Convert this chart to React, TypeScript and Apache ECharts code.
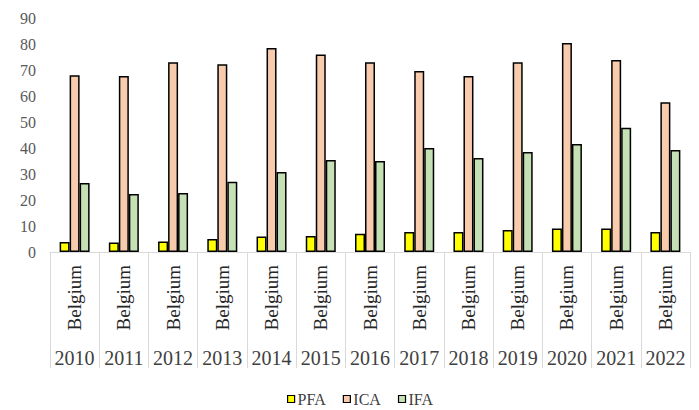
import React, { useEffect, useRef } from "react";
import * as echarts from "echarts";

const years = ["2010","2011","2012","2013","2014","2015","2016","2017","2018","2019","2020","2021","2022"];
const countries = years.map(() => "Belgium");
const pfa = [3.8, 3.7, 4.0, 5.0, 6.0, 6.2, 7.0, 7.7, 7.7, 8.5, 9.0, 9.0, 7.7];
const ica = [68.0, 67.7, 73.0, 72.2, 78.5, 76.0, 73.0, 69.6, 67.7, 73.0, 80.4, 73.8, 57.6];
const ifa = [26.5, 22.3, 22.7, 27.0, 30.8, 35.4, 35.0, 40.0, 36.2, 38.5, 41.5, 47.8, 39.2];
const yTicks = [0, 10, 20, 30, 40, 50, 60, 70, 80, 90];

const SERIF = "Liberation Serif, serif";

export default function App() {
  const ref = useRef<HTMLDivElement>(null);
  useEffect(() => {
    if (!ref.current) return;
    const chart = echarts.init(ref.current, null, { renderer: "svg" });
    const mk = (name: string, data: number[], color: string) => ({
      name,
      type: "bar",
      data,
      xAxisIndex: 0,
      barWidth: 10,
      barGap: "0%",
      itemStyle: { color, borderColor: "#000", borderWidth: 1.5 },
    });
    chart.setOption({
      animation: false,
      backgroundColor: "#fff",
      grid: { left: 50, right: 9, top: 18, bottom: 158, containLabel: false },
      legend: {
        left: 282,
        top: 386,
        itemWidth: 7,
        itemHeight: 7,
        itemGap: 17,
        textStyle: { fontFamily: SERIF, fontSize: 16, color: "#404040", padding: [0, 0, 0, -2] },
        data: [
          { name: "PFA", icon: "rect", itemStyle: { color: "#ffff00", borderColor: "#000", borderWidth: 1.2 } },
          { name: "ICA", icon: "rect", itemStyle: { color: "#f8cbad", borderColor: "#000", borderWidth: 1.2 } },
          { name: "IFA", icon: "rect", itemStyle: { color: "#c5e0b4", borderColor: "#000", borderWidth: 1.2 } },
        ],
      },
      xAxis: [
        {
          type: "category",
          data: countries,
          position: "bottom",
          axisLine: { show: true, lineStyle: { color: "#d9d9d9", width: 1 } },
          axisTick: { show: true, length: 116, interval: 0, lineStyle: { color: "#d9d9d9", width: 1 } },
          axisLabel: {
            interval: 0,
            rotate: 90,
            margin: 13,
            fontFamily: SERIF,
            fontSize: 19,
            color: "#262626",
          },
          splitLine: { show: false },
        },
        {
          type: "category",
          data: years,
          position: "bottom",
          axisLine: { show: false },
          axisTick: { show: false },
          axisLabel: {
            interval: 0,
            margin: 96,
            fontFamily: SERIF,
            fontSize: 20,
            color: "#404040",
          },
          splitLine: { show: false },
        },
      ],
      yAxis: {
        type: "value",
        min: yTicks[0],
        max: yTicks[yTicks.length - 1],
        interval: 10,
        axisLine: { show: false },
        axisTick: { show: false },
        splitLine: { show: false },
        axisLabel: { margin: 14, fontFamily: SERIF, fontSize: 16, color: "#595959" },
      },
      series: [
        mk("PFA", pfa, "#ffff00"),
        mk("ICA", ica, "#f8cbad"),
        mk("IFA", ifa, "#c5e0b4"),
      ],
    });
    return () => chart.dispose();
  }, []);
  return <div ref={ref} style={{ width: 699, height: 410, position: "absolute", left: 0, top: 0 }} />;
}
